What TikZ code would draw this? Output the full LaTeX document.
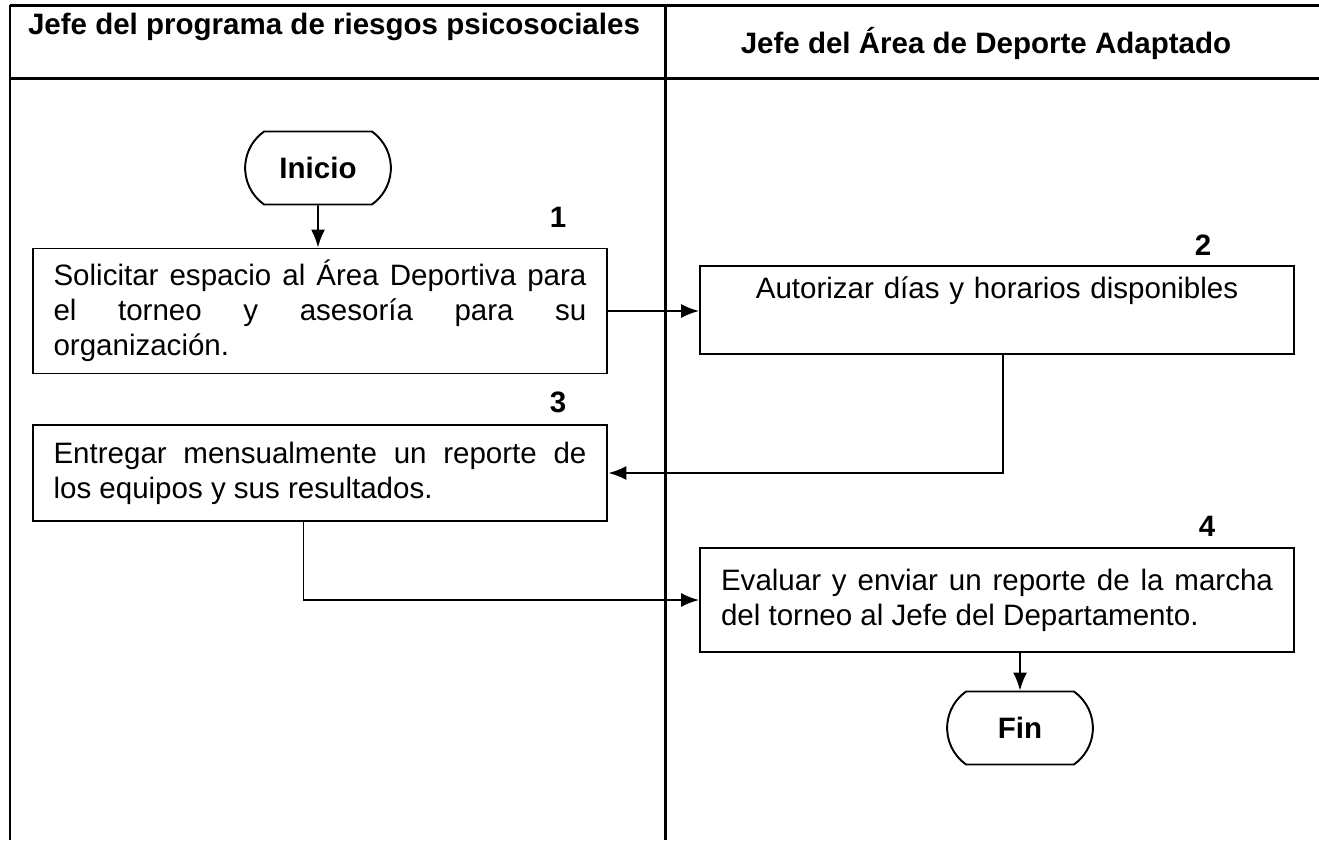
\documentclass[tikz,border=0pt]{standalone}
\usepackage{fontspec}
\setmainfont{Liberation Sans}
\usetikzlibrary{arrows.meta,shapes.misc}
\hyphenpenalty=10000
\tolerance=9999
\begin{document}
\begin{tikzpicture}[x=0.02cm, y=-0.02cm, >={Latex[length=0.36cm, width=0.28cm]},
  linea/.style={line width=1.7pt},
  paso/.style={draw, line width=1.1pt, inner xsep=0.42cm, inner ysep=0pt, font=\fontsize{16.8}{19.8}\selectfont},
  extremo/.style={draw, line width=1.1pt, rounded rectangle, rounded rectangle arc length=110, minimum width=3.15cm, minimum height=1.46cm, font=\fontsize{16.8}{19.8}\selectfont\bfseries},
  titulo/.style={font=\fontsize{16.8}{19.8}\selectfont\bfseries},
  flujo/.style={->, line width=1.1pt}]
\useasboundingbox (0,0) rectangle (1319,840);
% carriles
\draw[linea] (10,5) -- (1319,5);
\draw[linea] (10,78) -- (1319,78);
\foreach \x in {10,665}{
\draw[linea] (\x,5) -- (\x,840);
}
\node[titulo] (t1) at (334,27) {Jefe del programa de riesgos psicosociales};
\node[titulo] (t2) at (986,43) {Jefe del Área de Deporte Adaptado};
% pasos
\node[extremo] (ini) at (318,168) {Inicio};
\node[paso, text width=10.66cm, align=justify, minimum height=2.5cm] (b1) at (320,311)
{Solicitar espacio al Área Deportiva para\linebreak el torneo y asesoría para su organización.};
\node[paso, text width=11.04cm, align=center, minimum height=1.76cm] (b2) at (997,310)
{Autorizar días y horarios disponibles\\\strut};
\node[paso, text width=10.66cm, align=justify, minimum height=1.92cm] (b3) at (320,473)
{Entregar mensualmente un reporte de\linebreak los equipos y sus resultados.};
\node[paso, text width=11.04cm, align=justify, minimum height=2.08cm] (b4) at (997,600)
{Evaluar y enviar un reporte de la marcha del torneo al Jefe del Departamento.};
\node[extremo] (fin) at (1020,728) {Fin};
% numeros
\node[titulo] (n1) at (558,217) {1};
\node[titulo] (n2) at (1203,245) {2};
\node[titulo] (n3) at (558,402) {3};
\node[titulo] (n4) at (1207,526) {4};
% flechas
\draw[flujo] (ini) -- (ini |- b1.north);
\draw[flujo] (b1.east) -- (b1.east -| b2.west);
\draw[flujo] ([xshift=0.12cm]b2.south) |- (b3.east);
\draw[flujo] ([xshift=-0.33cm]b3.south) |- (b4.west);
\draw[flujo] (fin |- b4.south) -- (fin);
\end{tikzpicture}
\end{document}
